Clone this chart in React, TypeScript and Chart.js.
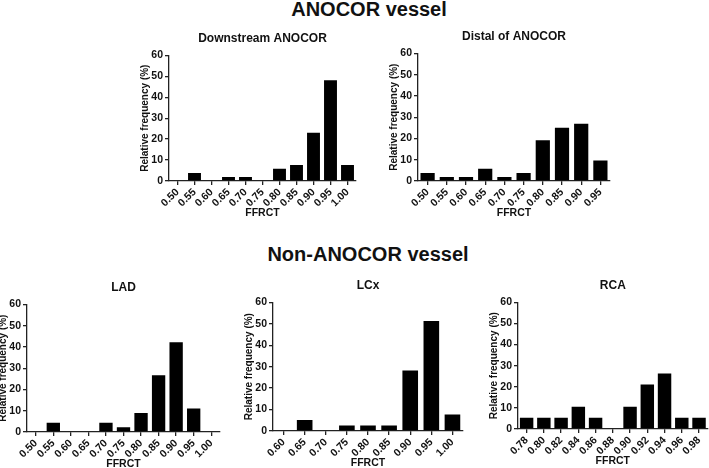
import React, { useEffect, useRef } from "react";
import { Chart, registerables } from "chart.js";

Chart.register(...registerables);
Chart.defaults.font.family = '"Liberation Sans", Arial, Helvetica, sans-serif';

const downstreamLabels = ["0.50", "0.55", "0.60", "0.65", "0.70", "0.75", "0.80", "0.85", "0.90", "0.95", "1.00"];
const downstreamValues = [0, 3.8, 0, 1.9, 1.9, 0, 5.8, 7.7, 23.1, 48.1, 7.7];

const distalLabels = ["0.50", "0.55", "0.60", "0.65", "0.70", "0.75", "0.80", "0.85", "0.90", "0.95"];
const distalValues = [3.8, 1.9, 1.9, 5.8, 1.9, 3.8, 19.2, 25.0, 26.9, 9.6];

const ladLabels = ["0.50", "0.55", "0.60", "0.65", "0.70", "0.75", "0.80", "0.85", "0.90", "0.95", "1.00"];
const ladValues = [0, 4.4, 0, 0, 4.4, 2.2, 8.9, 26.7, 42.2, 11.1, 0];

const lcxLabels = ["0.60", "0.65", "0.70", "0.75", "0.80", "0.85", "0.90", "0.95", "1.00"];
const lcxValues = [0, 5.1, 0, 2.6, 2.6, 2.6, 28.2, 51.3, 7.7];

const rcaLabels = ["0.78", "0.80", "0.82", "0.84", "0.86", "0.88", "0.90", "0.92", "0.94", "0.96", "0.98"];
const rcaValues = [5.3, 5.3, 5.3, 10.5, 5.3, 0, 10.5, 21.1, 26.3, 5.3, 5.3];

const yMin = 0;
const yMax = 60;
const yStep = 10;

const xAxisTitle = "FFRCT";
const yAxisTitle = "Relative frequency (%)";

type PanelSpec = {
  title: string;
  labels: string[];
  values: number[];
  plotLeft: number;
  plotTop: number;
  plotW: number;
  plotH: number;
  barPct: number;
  padR: number;
};

const Y_W = 30;
const TITLE_H = 24.4;
const X_H = 42;
const INK = "#111";
const AXIS = "#222";

function Panel({ spec }: { spec: PanelSpec }) {
  const ref = useRef<HTMLCanvasElement | null>(null);
  const w = Math.round(Y_W + spec.plotW + spec.padR);
  const h = Math.round(TITLE_H + spec.plotH + X_H);
  useEffect(() => {
    if (!ref.current) return;
    const chart = new Chart(ref.current, {
      type: "bar",
      data: {
        labels: spec.labels,
        datasets: [
          {
            data: spec.values,
            backgroundColor: "#000",
            borderWidth: 0,
            barPercentage: spec.barPct,
            categoryPercentage: 1,
          },
        ],
      },
      options: {
        responsive: false,
        animation: false,
        layout: { padding: { left: 0, right: spec.padR, top: 0, bottom: 0 } },
        plugins: {
          legend: { display: false },
          tooltip: { enabled: false },
          title: {
            display: true,
            text: spec.title,
            color: INK,
            fullSize: false,
            font: { size: 12, weight: "bold", lineHeight: 1.2 },
            padding: { top: 0, bottom: 10 },
          },
        },
        scales: {
          x: {
            type: "category",
            offset: true,
            afterFit: (s: any) => {
              s.height = X_H;
            },
            grid: {
              display: true,
              drawOnChartArea: false,
              drawTicks: true,
              tickLength: 4,
              color: AXIS,
              lineWidth: 1.3,
              offset: false,
            },
            border: { display: true, color: AXIS, width: 1.3 },
            ticks: {
              color: INK,
              font: { size: 10.5, weight: "bold" },
              maxRotation: 45,
              minRotation: 45,
              autoSkip: false,
              padding: 1,
            },
            title: {
              display: true,
              text: xAxisTitle,
              color: INK,
              font: { size: 10.5, weight: "bold" },
              padding: { top: 2, bottom: 4 },
            },
          },
          y: {
            min: yMin,
            max: yMax,
            afterFit: (s: any) => {
              s.width = Y_W;
            },
            grid: {
              display: true,
              drawOnChartArea: false,
              drawTicks: true,
              tickLength: 4,
              color: AXIS,
              lineWidth: 1.3,
            },
            border: { display: true, color: AXIS, width: 1.3 },
            ticks: {
              stepSize: yStep,
              color: INK,
              font: { size: 10.5, weight: "bold" },
              padding: 2,
            },
            title: {
              display: true,
              text: yAxisTitle,
              color: INK,
              font: { size: 10, weight: "bold" },
              padding: { top: 0, bottom: 0 },
            },
          },
        },
      } as any,
    });
    return () => chart.destroy();
  }, []);
  return (
    <div
      style={{
        position: "absolute",
        left: spec.plotLeft - Y_W,
        top: spec.plotTop - TITLE_H,
        width: w,
        height: h,
      }}
    >
      <canvas ref={ref} width={w} height={h} style={{ width: w, height: h, display: "block" }} />
    </div>
  );
}

const panels: PanelSpec[] = [
  { title: "Downstream ANOCOR", labels: downstreamLabels, values: downstreamValues, plotLeft: 169, plotTop: 55, plotW: 187, plotH: 126, barPct: 0.76, padR: 6 },
  { title: "Distal of ANOCOR", labels: distalLabels, values: distalValues, plotLeft: 418, plotTop: 53, plotW: 192, plotH: 128, barPct: 0.74, padR: 6 },
  { title: "LAD", labels: ladLabels, values: ladValues, plotLeft: 27, plotTop: 304, plotW: 193, plotH: 128, barPct: 0.76, padR: 6 },
  { title: "LCx", labels: lcxLabels, values: lcxValues, plotLeft: 273, plotTop: 302, plotW: 190, plotH: 129, barPct: 0.74, padR: 6 },
  { title: "RCA", labels: rcaLabels, values: rcaValues, plotLeft: 518, plotTop: 302, plotW: 191, plotH: 127, barPct: 0.78, padR: 0 },
];

const headingStyle: React.CSSProperties = {
  position: "absolute",
  transform: "translateX(-50%)",
  whiteSpace: "nowrap",
  fontFamily: '"Liberation Sans", Arial, Helvetica, sans-serif',
  fontWeight: "bold",
  fontSize: 20,
  lineHeight: "20px",
  color: INK,
};

export default function App() {
  return (
    <div
      style={{
        position: "absolute",
        left: 0,
        top: 0,
        width: 709,
        height: 468,
        background: "#fff",
        overflow: "hidden",
      }}
    >
      <div style={{ ...headingStyle, left: 369, top: -1 }}>ANOCOR vessel</div>
      <div style={{ ...headingStyle, left: 368, top: 244 }}>Non-ANOCOR vessel</div>
      {panels.map((p) => (
        <Panel key={p.title} spec={p} />
      ))}
    </div>
  );
}
